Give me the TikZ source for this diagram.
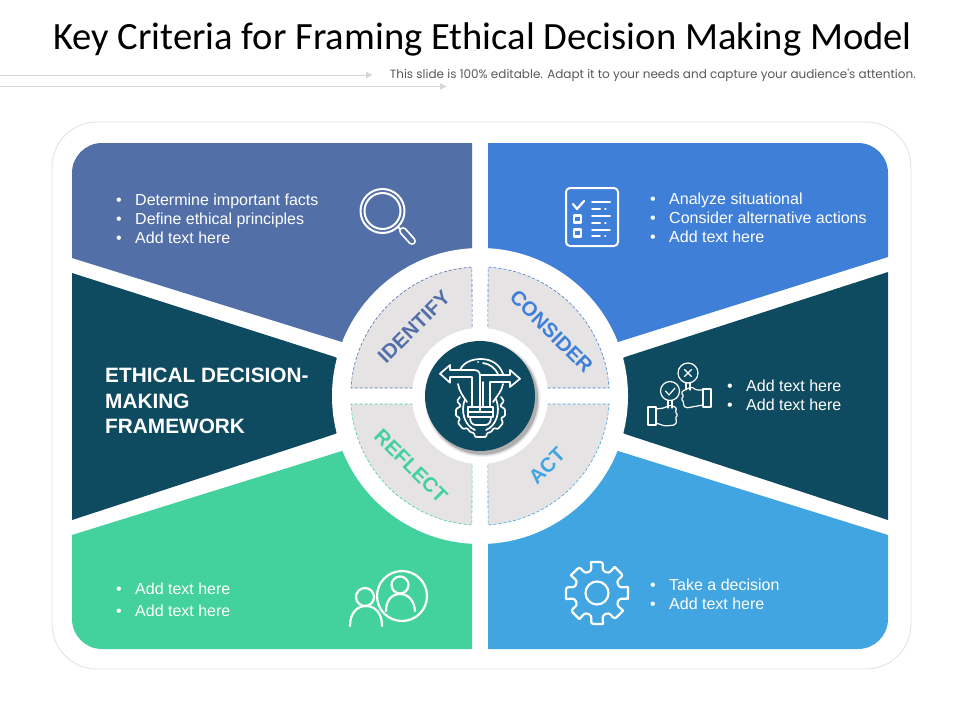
\documentclass[tikz,border=0pt]{standalone}
\usepackage{fontspec}
\setmainfont{Liberation Sans}
\newfontfamily\titlefont{Carlito}
\newfontfamily\subfont{Poppins}
\newfontfamily\boldsans{Liberation Sans}
\usetikzlibrary{arrows.meta}
\definecolor{pIdentify}{HTML}{526FA8}
\definecolor{pConsider}{HTML}{3F7FD8}
\definecolor{pDark}{HTML}{0E4A60}
\definecolor{pReflect}{HTML}{43D19E}
\definecolor{pAct}{HTML}{41A5E1}
\definecolor{sectorGray}{HTML}{E5E3E4}
\definecolor{frameGray}{HTML}{E4E4E4}
\definecolor{ruleGray}{HTML}{D6D6D6}
\tikzset{
  bodytext/.style={anchor=base west,text=white,inner sep=0pt,font=\fontsize{16}{18}\selectfont},
  sector/.style={fill=sectorGray,draw=#1,dash pattern=on 3pt off 2pt,line width=0.6pt},
  ring/.style={text=#1,font=\boldsans\bfseries\fontsize{20.3}{24}\selectfont,inner sep=0pt},
  icon/.style={draw=white,line width=#1,line cap=round,line join=round,fill=none},
  ruleline/.style={draw=ruleGray,line width=0.8pt,-{Latex[length=7pt,width=7pt,fill=ruleGray]}},
}
\newcommand{\bul}[4]{%
  \node[bodytext] (#1b) at (#2-19,#3+5.5) {•};
  \node[bodytext] (#1) at (#2,#3+5.5) {#4};
}
\begin{document}
\begin{tikzpicture}[x=1pt,y=-1pt]
\useasboundingbox (0,0) rectangle (960,720);
\fill[white] (0,0) rectangle (960,720);

% header
\node[anchor=base west,inner sep=0pt,font=\titlefont\fontsize{38.6}{44}\selectfont,text=black] (title) at (53,49) {Key Criteria for Framing Ethical Decision Making Model};
\node[anchor=base east,inner sep=0pt,font=\subfont\fontsize{12}{14}\selectfont,text=black!65] (subtitle) at (916,78) {This slide is 100\% editable. Adapt it to your needs and capture your audience's attention.};
\coordinate (r1a) at (0,75); \coordinate (r1b) at (373,75);
\coordinate (r2a) at (0,86.5); \coordinate (r2b) at (447,86.5);
\draw[ruleline] (r1a) -- (r1b);
\draw[ruleline] (r2a) -- (r2b);

% frame
\draw[frameGray,line width=0.9pt,rounded corners=45pt] (52,122) rectangle (911,669);

% panels
\fill[pIdentify] (472,300) -- (472,143) [rounded corners=30pt] -- (72,143) [sharp corners] -- (72,258) -- (342,342) -- cycle;
\fill[pConsider] (488,300) -- (488,143) [rounded corners=30pt] -- (888,143) [sharp corners] -- (888,257) -- (618,342) -- cycle;
\fill[pReflect] (472,500) -- (472,649) [rounded corners=30pt] -- (72,649) [sharp corners] -- (72,535) -- (342,451) -- cycle;
\fill[pAct] (488,500) -- (488,649) [rounded corners=30pt] -- (888,649) [sharp corners] -- (888,535) -- (618,451) -- cycle;
\fill[pDark] (72,273) -- (72,520) -- (335,434) -- (400,396) -- (335,357) -- cycle;
\fill[pDark] (888,272) -- (888,520) -- (625,434) -- (560,396) -- (625,357) -- cycle;

% hub
\fill[white] (480,396) circle[radius=148];
\draw[sector=pIdentify] (472.5,388) -- (351,388) arc[start angle=183.5,end angle=266.5,radius=129] -- cycle;
\draw[sector=pConsider] (487.5,388) -- (609,388) arc[start angle=356.5,end angle=273.5,radius=129] -- cycle;
\draw[sector=pReflect] (472.5,404) -- (351,404) arc[start angle=176.5,end angle=93.5,radius=129] -- cycle;
\draw[sector=pAct] (487.5,404) -- (609,404) arc[start angle=3.5,end angle=86.5,radius=129] -- cycle;
\fill[white] (480,396) circle[radius=68];
\foreach \r/\o in {58/0.05,57/0.08,56/0.10,55.5/0.12}
  \fill[black,opacity=\o] (482.5,399) circle[radius=\r];
\fill[pDark] (480,396) circle[radius=55];

% ring labels
\node[ring=pIdentify,rotate=45] (identify) at (414,327) {IDENTIFY};
\node[ring=pConsider,rotate=-45] (consider) at (551.5,331.5) {CONSIDER};
\node[ring=pReflect,rotate=-45] (reflect) at (411,466) {REFLECT};
\node[ring=pAct,rotate=45] (act) at (547,466) {ACT};

% centre icon
\begin{scope}[icon=1.7pt]
  % dome
  \draw (460,370) .. controls (463,363) and (471,359) .. (481,359) .. controls (492,359) and (500,365) .. (503,374);
  \draw (458,384) .. controls (459,391) and (463,396) .. (467,402);
  \draw (503,384) .. controls (502,391) and (497,396) .. (493,402);
  \draw (478,362) -- (478.2,362);
  \draw (483,363) .. controls (490,364) and (495,368) .. (498,374);
  % left arrow and stem
  \draw (440,373.7) -- (450,365) -- (450,370) -- (474,370) .. controls (478,370) and (480,372) .. (480,376) -- (480,411);
  \draw (440,373.7) -- (450,382.7) -- (450,377) -- (472,377) -- (472,407);
  % right arrow and stem
  \draw (520,378.7) -- (510,370) -- (510,375) -- (480,375);
  \draw (520,378.7) -- (510,387) -- (510,382) -- (490,382) -- (490,407);
  \draw (483,382) -- (483,407);
  % gear under the bulb
  \draw[rounded corners=1pt] (460,397) -- (457,401) -- (461,406) -- (456,409) -- (456,416) -- (460,418) -- (458,423) -- (463,429) -- (467,428) -- (470,432) -- (474,433) -- (475,437) -- (486,437) -- (487,433) -- (491,432) -- (494,428) -- (498,429) -- (503,423) -- (501,418) -- (505,416) -- (505,409) -- (500,406) -- (504,401) -- (501,397);
  \draw (465,399) .. controls (460,412) and (465,426) .. (475,430);
  \draw (496,399) .. controls (501,412) and (496,426) .. (486,430);
  \draw (468,407) rectangle (493,417);
  \draw (468,412) -- (493,412);
  \draw (470,417) .. controls (470,422) and (472,425) .. (476,425) -- (485,425) .. controls (489,425) and (491,422) .. (491,417);
\end{scope}

% magnifier
\draw[icon=2pt] (382.5,211) circle[radius=22];
\draw[icon=2pt] (382.5,211) circle[radius=18];
\draw[icon=2pt] (398,227) -- (401,230);
\draw[white,line width=8pt,line cap=round] (403,231) -- (412,241);
\draw[pIdentify,line width=4.4pt,line cap=round] (403,231) -- (412,241);

% checklist
\draw[icon=2pt,rounded corners=4pt] (566,188) rectangle (618,246);
\draw[icon=2.2pt] (573,204) -- (577,209) -- (584,201);
\draw[icon=2.2pt,line cap=butt] (574,215.5) rectangle (581,222.5);
\draw[icon=2.2pt,line cap=butt] (574,229.5) rectangle (581,236.5);
\draw[icon=2pt] (592,202) -- (610,202) (592,208.5) -- (600,208.5) (605,208.5) -- (605.5,208.5);
\draw[icon=2pt] (592,216) -- (610,216) (592,222.5) -- (600,222.5) (605,222.5) -- (605.5,222.5);
\draw[icon=1.6pt] (592,230) -- (610,230) (592,236) -- (600,236) (605,236) -- (605.5,236);

% hands
\begin{scope}[icon=1.2pt]
  \draw (688,373) circle[radius=10];
  \draw (684.5,369.5) -- (691.5,376.5) (691.5,369.5) -- (684.5,376.5);
  \draw (686,383) -- (686,390) (690,383) -- (690,390);
  \draw (703,389) rectangle (711,407);
  \draw[rounded corners=1.5pt] (703,390) -- (696,390) -- (692,387) -- (684,390) -- (681,393) -- (684,396) -- (681,399) -- (684,402) -- (683,405) -- (686,408) -- (703,405);
  \draw (670,391) circle[radius=9.5];
  \draw (665.5,391) -- (669,395) -- (675,388);
  \draw (668,400.5) -- (668,408) (672,400.5) -- (672,408);
  \draw (648,407) rectangle (656,425);
  \draw[rounded corners=1.5pt] (656,409) -- (664,408) -- (670,405) -- (677,408) -- (675,412) -- (678,415) -- (675,418) -- (677,421) -- (675,425) -- (665,426) -- (656,423);
\end{scope}

% people
\begin{scope}[icon=2.2pt]
  \draw (402,596) circle[radius=25];
  \draw (400,585) circle[radius=8.5];
  \draw (386,611) .. controls (386,600) and (392,594) .. (400,594) .. controls (408,594) and (414,600) .. (415,611);
  \draw (365,597) circle[radius=9];
  \draw (350,626) .. controls (350,613) and (357,606) .. (366,606) .. controls (375,606) and (382,613) .. (382,626);
\end{scope}

% gear
\draw[icon=2.2pt,rounded corners=2.5pt,shift={(597,593)}]
  \foreach \a in {0,45,...,315}{
    (\a-11:31.5) -- (\a+11:31.5) -- (\a+14:23) -- (\a+31:23) -- (\a+34:31.5)
  } (-11:31.5) -- (11:31.5);
\draw[icon=2.2pt] (597,593) circle[radius=11.5];

% panel texts
\bul{ia}{135}{200}{Determine important facts}
\bul{ib}{135}{219}{Define ethical principles}
\bul{ic}{135}{238}{Add text here}
\bul{ca}{669}{199}{Analyze situational}
\bul{cb}{669}{218}{Consider alternative actions}
\bul{cc}{669}{237}{Add text here}
\bul{da}{746}{386}{Add text here}
\bul{db}{746}{405}{Add text here}
\bul{ra}{135}{589}{Add text here}
\bul{rb}{135}{611}{Add text here}
\bul{aa}{669}{585}{Take a decision}
\bul{ab}{669}{604}{Add text here}

\node[anchor=west,inner sep=0pt,text=white,align=left,font=\boldsans\bfseries\fontsize{20.8}{25.5}\selectfont] (framework) at (105,401) {ETHICAL DECISION-\\MAKING\\FRAMEWORK};
\end{tikzpicture}
\end{document}
